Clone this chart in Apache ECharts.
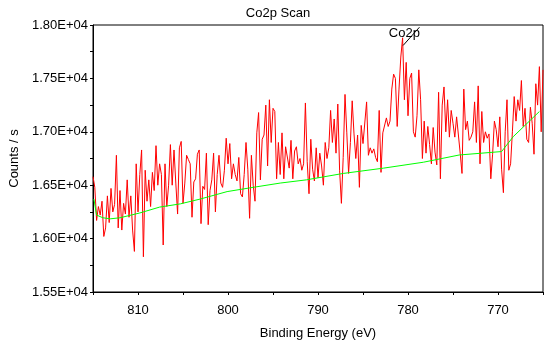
<!DOCTYPE html>
<html>
<head>
<meta charset="utf-8">
<script src="https://cdn.jsdelivr.net/npm/echarts@6/dist/echarts.min.js"></script>
<style>html,body{margin:0;padding:0;background:#fff;}#c{width:556px;height:362px;}</style>
</head>
<body>
<div id="c"></div>
<script>
// Binding energy grid of the scan (eV), descending
var energyStart = 815.0;
var energyStep = 0.2;
// Measured counts / s
var counts = [
16580,16480,16170,16300,16220,16350,16020,16100,16400,16150,16470,16250,16320,16780,16100,16450,16080,16330,16230,16550,16200,16400,16080,15880,16700,16250,16600,16830,15830,16640,16350,16550,16300,16620,16450,16870,16500,16700,16600,15940,16700,16300,16500,
16880,16500,16830,16520,16230,16850,16910,16330,16520,16780,16740,16700,16200,16530,16560,16790,16830,16140,16490,16460,16800,16130,16450,16550,16800,16250,16600,16780,16520,16480,16640,16940,16700,16890,16560,16700,16600,16540,16760,16420,16390,16600,
16900,16650,16190,16780,16500,16350,16990,17180,16550,16930,16970,17250,16680,17300,16900,17220,17190,16560,16900,16600,16990,16560,16860,16850,16660,16920,16560,16820,16860,16700,16750,16640,16700,17270,16720,16420,16930,16650,16540,16850,16570,
16800,16680,16500,16900,16750,16850,17200,16900,17120,16800,17260,16640,16330,16760,17350,16990,16610,16900,17290,16980,16750,16970,16480,17060,16890,16900,17280,16780,16850,16800,16840,16760,16720,17200,16620,16990,17000,17130,17050,17100,17400,17540,
17500,17050,17400,17700,17880,17300,17650,17150,17500,17550,17000,16950,17150,17580,17300,16750,17100,16800,17050,16880,16700,17040,16810,16690,17370,16560,17250,17420,17000,17300,16950,17200,17080,16950,17140,16970,16800,16610,17400,17020,17100,16920,
16950,17000,17280,16900,17430,16700,17190,16900,17000,16940,16980,16560,16790,17100,17020,16860,17140,16650,16430,17000,17300,16640,16700,17000,17330,17100,17300,17200,17480,17050,17220,16930,16900,17230,17080,16790,17450,17250,17610,17000,17580
];
// Background (baseline) curve
var baseEnergy = [814.9,814.6,813.9,813.1,812.0,809.8,807.6,805.3,803.1,800.1,797.2,794.2,791.3,787.2,782.7,778.3,774.3,769.6,768.3,765.4];
var baseCounts = [16370,16220,16195,16185,16195,16240,16295,16325,16370,16440,16480,16520,16550,16610,16660,16715,16783,16815,16955,17190];
// Peak label
var peakName = 'Co2p';
var peakLine = [[780.55, 17808], [778.73, 17979]];
var peakLabelPos = [780.4, 17925];

var xMin = 765, xMax = 815, xInterval = 5;
var yMin = 15500, yMax = 18000, yInterval = 250;

var scanData = counts.map(function (c, i) {
  return [+(energyStart - i * energyStep).toFixed(2), c];
});
var baseData = baseEnergy.map(function (e, i) { return [e, baseCounts[i]]; });

var FONT = 'Liberation Sans, Arial, sans-serif';
var chart = echarts.init(document.getElementById('c'));
chart.setOption({
  animation: false,
  backgroundColor: '#fff',
  title: {
    text: 'Co2p Scan', left: 'center', top: 2,
    textStyle: { fontSize: 13, fontWeight: 'normal', color: '#000', fontFamily: FONT }
  },
  grid: { left: 93, right: 13, top: 25, bottom: 70, show: true, borderColor: '#000', borderWidth: 1, backgroundColor: 'transparent' },
  xAxis: {
    type: 'value', inverse: true, min: xMin, max: xMax, interval: xInterval,
    name: 'Binding Energy (eV)', nameLocation: 'middle', nameGap: 35,
    nameTextStyle: { fontSize: 13, color: '#000', fontFamily: FONT },
    axisLine: { show: true, lineStyle: { color: '#000', width: 1 } },
    axisTick: { show: true, length: 3, lineStyle: { color: '#000' } },
    axisLabel: {
      margin: 12, fontSize: 13, color: '#000', fontFamily: FONT,
      formatter: function (v) { return (Math.round(v) % 10 === 0) ? String(Math.round(v)) : ''; }
    },
    splitLine: { show: false }
  },
  yAxis: {
    type: 'value', min: yMin, max: yMax, interval: yInterval,
    name: 'Counts / s', nameLocation: 'middle', nameGap: 64, nameRotate: 90,
    nameTextStyle: { fontSize: 13, color: '#000', fontFamily: FONT },
    axisLine: { show: true, lineStyle: { color: '#000', width: 1 } },
    axisTick: { show: true, length: 3, lineStyle: { color: '#000' } },
    axisLabel: {
      margin: 5, fontSize: 13, color: '#000', fontFamily: FONT,
      formatter: function (v) { return (Math.round(v) % 500 === 0) ? (v / 10000).toFixed(2) + 'E+04' : ''; }
    },
    splitLine: { show: false }
  },
  series: [
    {
      type: 'line', data: scanData, symbol: 'none', z: 2,
      lineStyle: { color: '#ff0000', width: 1 },
      markLine: {
        silent: true, symbol: ['none', 'none'], animation: false,
        lineStyle: { color: '#000', width: 1, type: 'solid' },
        label: { show: false },
        data: [[{ coord: peakLine[0] }, { coord: peakLine[1] }]]
      },
      markPoint: {
        symbol: 'circle', symbolSize: 0, silent: true,
        label: { show: true, formatter: peakName, fontSize: 13, color: '#000', fontFamily: FONT, position: 'inside' },
        data: [{ coord: peakLabelPos }]
      }
    },
    {
      type: 'line', data: baseData, symbol: 'none', z: 3,
      lineStyle: { color: '#00ff00', width: 1 }
    }
  ]
});
</script>
</body>
</html>
